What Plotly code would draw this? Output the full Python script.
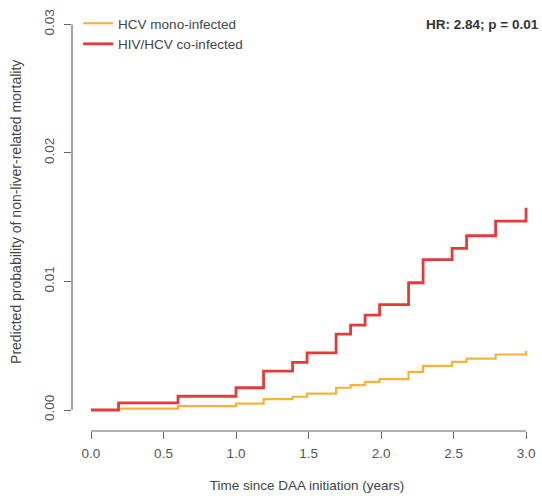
import plotly.graph_objects as go

# ── Data ──────────────────────────────────────────────────────────────────────
years = [0, 0.19, 0.6, 1.0, 1.19, 1.39, 1.49, 1.69, 1.79, 1.89, 1.99,
         2.19, 2.29, 2.49, 2.59, 2.79, 3.0]
hcv_mono = [0, 0.0001, 0.0003, 0.0005, 0.00084, 0.00103, 0.00128, 0.00173,
            0.00193, 0.00219, 0.0024, 0.00297, 0.00344, 0.00375, 0.004,
            0.00432, 0.0046]
hiv_hcv = [0, 0.00056, 0.00107, 0.00173, 0.00302, 0.0037, 0.00445, 0.0059,
           0.0066, 0.00738, 0.0082, 0.0099, 0.0117, 0.01257, 0.01356,
           0.01469, 0.01574]

x_ticks = [0, 0.5, 1.0, 1.5, 2.0, 2.5, 3.0]
y_ticks = [0, 0.01, 0.02, 0.03]

FONT = 'Liberation Sans, Arial, sans-serif'
AXIS_GREY = '#666666'
FS = 13.5

fig = go.Figure()

fig.add_trace(go.Scatter(
    x=years, y=hcv_mono, mode='lines', line_shape='hv',
    line=dict(color='#F6B33C', width=2.2),
    name='HCV mono-infected',
))
fig.add_trace(go.Scatter(
    x=years, y=hiv_hcv, mode='lines', line_shape='hv',
    line=dict(color='#E23B3B', width=2.8),
    name='HIV/HCV co-infected',
))

# R-style axis lines that only span the tick range
fig.add_shape(type='line', xref='x', yref='paper', x0=0, x1=3, y0=0, y1=0,
              line=dict(color=AXIS_GREY, width=1.2))
fig.add_shape(type='line', xref='paper', yref='y', x0=0, x1=0, y0=0, y1=0.03,
              line=dict(color=AXIS_GREY, width=1.2))

fig.add_annotation(
    text='<b>HR: 2.84; p = 0.01</b>', xref='paper', yref='paper',
    x=0.998, y=0.96, xanchor='right', yanchor='middle', showarrow=False,
    font=dict(family=FONT, size=FS, color='#333333'),
)
fig.add_annotation(
    text='Predicted probability of non-liver-related mortality',
    xref='paper', yref='paper', x=-0.119, y=0.518, textangle=-90,
    xanchor='center', yanchor='middle', showarrow=False,
    font=dict(family=FONT, size=14, color='#444444'),
)

fig.update_layout(
    width=542, height=496,
    margin=dict(l=72, r=0, t=8, b=65),
    paper_bgcolor='white', plot_bgcolor='white',
    font=dict(family=FONT, size=FS, color='#555555'),
    showlegend=True,
    legend=dict(
        x=0.013, y=1.0, xanchor='left', yanchor='top',
        bgcolor='rgba(0,0,0,0)', itemwidth=30,
        font=dict(family=FONT, size=FS, color='#444444'),
        tracegroupgap=0,
    ),
    xaxis=dict(
        range=[-0.131, 3.11], tickvals=x_ticks,
        ticktext=[f'{v:.1f}' for v in x_ticks],
        ticks='outside', ticklen=7, tickcolor=AXIS_GREY, showline=False,
        showgrid=False, zeroline=False, ticklabelstandoff=3,
        title=dict(text='Time since DAA initiation (years)', standoff=20,
                   font=dict(family=FONT, size=FS, color='#444444')),
    ),
    yaxis=dict(
        range=[-0.001634, 0.03128], tickvals=y_ticks,
        ticktext=[f'{v:.2f}' for v in y_ticks], tickangle=-90,
        ticks='outside', ticklen=7, tickcolor=AXIS_GREY, showline=False,
        showgrid=False, zeroline=False, ticklabelstandoff=5,
    ),
)

# drop the browser's default 8px body margin so the figure fills the window
fig.write_html('out.html',
               config={'displayModeBar': False},
               post_script="document.body.style.margin='0';"
                           "document.body.style.overflow='hidden';")
